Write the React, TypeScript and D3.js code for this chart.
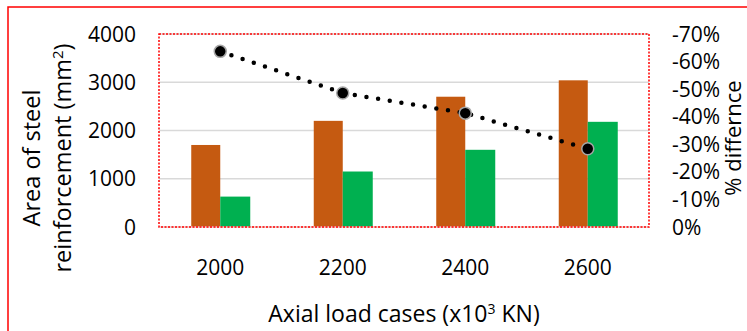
import * as d3 from "d3";

const categories = ["2000", "2200", "2400", "2600"];
const areaA = [1700, 2200, 2700, 3040];
const areaB = [630, 1150, 1600, 2180];
const pctDiff = [-63.7, -48.6, -41.3, -28.4];
const leftTicks = [0, 1000, 2000, 3000, 4000];
const rightTicks = [0, -10, -20, -30, -40, -50, -60, -70];

const W = 747;
const H = 331;
const plot = { left: 159, right: 649, top: 34, bottom: 227 };
const font = "'Open Sans', sans-serif";

export default function App() {
  const x = d3.scaleBand<string>().domain(categories).range([plot.left, plot.right]);
  const y = d3.scaleLinear().domain([0, 4000]).range([plot.bottom, plot.top]);
  const y2 = d3.scaleLinear().domain([0, -70]).range([plot.bottom, plot.top]);
  const barW = 29;
  const mid = (c: string) => (x(c) ?? 0) + x.bandwidth() / 2;

  const line = d3
    .line<number>()
    .x((_, i) => mid(categories[i]))
    .y((d) => y2(d));

  return (
    <svg width={W} height={H} style={{ position: "absolute", left: 0, top: 0, fontFamily: font }}>
      <rect width={W} height={H} fill="#fff" />
      <rect x={8} y={7} width={W + 20} height={H + 20} fill="none" stroke="#ff0000" strokeWidth={1.5} />

      {leftTicks.slice(1).map((t) => (
        <line key={t} x1={plot.left} x2={plot.right} y1={y(t)} y2={y(t)} stroke="#d9d9d9" strokeWidth={1.5} />
      ))}

      {categories.map((c, i) => (
        <g key={c}>
          <rect x={mid(c) - barW} y={y(areaA[i])} width={barW} height={y(0) - y(areaA[i])} fill="#c55a11" />
          <rect x={mid(c)} y={y(areaB[i])} width={barW + 1} height={y(0) - y(areaB[i])} fill="#00b050" />
        </g>
      ))}

      <line x1={plot.left} x2={plot.right} y1={y(0)} y2={y(0)} stroke="#e8c8c8" strokeWidth={1.5} />
      <rect
        x={plot.left}
        y={plot.top}
        width={plot.right - plot.left}
        height={plot.bottom - plot.top}
        fill="none"
        stroke="#ff0000"
        strokeWidth={1.5}
        strokeDasharray="2 1.5"
      />

      <path d={line(pctDiff) ?? ""} fill="none" stroke="#000" strokeWidth={4.5} strokeLinecap="round" strokeDasharray="0 11.8" />
      {pctDiff.map((d, i) => (
        <circle key={i} cx={mid(categories[i])} cy={y2(d)} r={6} fill="#000" stroke="#a6a6a6" strokeWidth={1.5} />
      ))}

      {leftTicks.map((t) => (
        <text key={t} x={136} y={y(t)} dy="0.36em" textAnchor="end" fontSize={21} fill="#000">
          {t}
        </text>
      ))}
      {rightTicks.map((t) => (
        <text key={t} x={672} y={y2(t)} dy="0.36em" textAnchor="start" fontSize={21} fill="#000">
          {`${t}%`}
        </text>
      ))}
      {categories.map((c) => (
        <text key={c} x={mid(c)} y={267} dy="0.36em" textAnchor="middle" fontSize={21} fill="#000">
          {c}
        </text>
      ))}

      <text x={(plot.left + plot.right) / 2} y={314} dy="0.36em" textAnchor="middle" fontSize={23} fill="#000">
        Axial load cases (x10<tspan dy="-8" fontSize={14}>3</tspan>
        <tspan dy="8"> KN)</tspan>
      </text>

      <g transform="translate(48,158) rotate(-90)">
        <text x={0} y={-16} dy="0.36em" textAnchor="middle" fontSize={23.5} fill="#000">
          Area of steel
        </text>
        <text x={0} y={15} dy="0.36em" textAnchor="middle" fontSize={23.5} fill="#000">
          reinforcement (mm<tspan dy="-8" fontSize={15}>2</tspan>
          <tspan dy="8">)</tspan>
        </text>
      </g>

      <g transform="translate(733,138) rotate(-90)">
        <text x={0} y={0} dy="0.36em" textAnchor="middle" fontSize={22} fill="#000">
          % differnce
        </text>
      </g>
    </svg>
  );
}
